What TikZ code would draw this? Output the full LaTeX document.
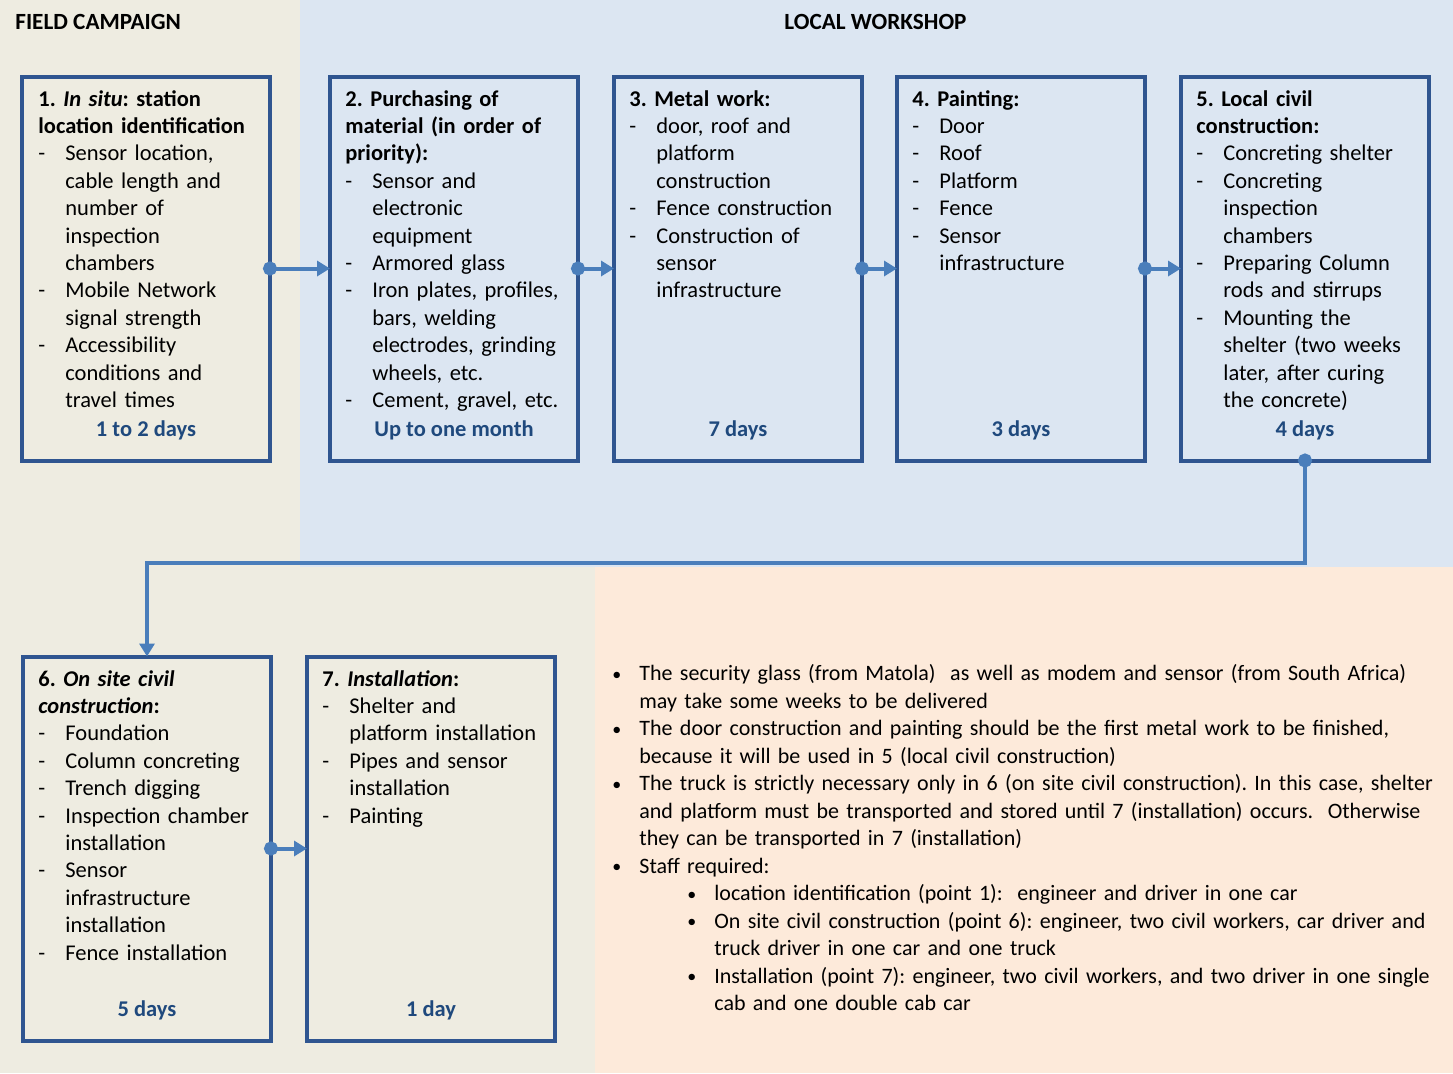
\documentclass[tikz,border=0pt]{standalone}
\usepackage{fontspec}
\setmainfont{Carlito}
\usetikzlibrary{positioning,arrows.meta}
\definecolor{fieldbg}{HTML}{EEECE1}
\definecolor{workbg}{HTML}{DCE6F2}
\definecolor{notebg}{HTML}{FDEADA}
\definecolor{boxline}{HTML}{2F5590}
\definecolor{flowline}{HTML}{4A7EBB}
\definecolor{dayblue}{HTML}{1F497D}
\newcommand{\boxfont}{\fontsize{11.25}{13.7}\selectfont\frenchspacing}
\newcommand{\notefont}{\fontsize{11}{13.75}\selectfont\frenchspacing}
\newcommand{\bulletmark}{\raisebox{0.4pt}{\fontsize{9}{9}\selectfont•}}
\newcommand{\itm}{\par\hangindent=13.5pt\hangafter=1\noindent\makebox[13.5pt][l]{-}}
\newcommand{\bul}{\par\hangindent=13.5pt\hangafter=1\noindent\strut\makebox[13.5pt][l]{\bulletmark}}
\newcommand{\subbul}{\par\hangindent=51pt\hangafter=1\noindent\hspace*{37.5pt}\makebox[13.5pt][l]{\bulletmark}}
\tikzset{
  stepbox/.style  = {shape=rectangle, draw=boxline, line width=2pt, outer sep=0pt,
                     minimum width=124pt, minimum height=192pt, inner sep=0pt},
  steptext/.style = {anchor=north west, text width=112pt, align=left,
                     inner sep=0pt, font=\boxfont},
  days/.style     = {anchor=base, inner sep=0pt, font=\boxfont\bfseries, text=dayblue},
  heading/.style  = {anchor=west, inner sep=0pt, font=\fontsize{11.6}{14}\selectfont\bfseries},
  flow/.style     = {draw=flowline, line width=2pt, shorten <=-3.5pt,
                     {Circle[length=7pt]}-{Triangle[length=6.5pt,width=7.5pt]}}
}

\begin{document}
\begin{tikzpicture}[x=0.5pt,y=-0.5pt]
  \useasboundingbox (0,0) rectangle (1453,1073);
  % backgrounds
  \fill[fieldbg] (0,0) rectangle (1453,1073);
  \fill[workbg] (300,0) rectangle (1453,567);
  \fill[notebg] (595,567) rectangle (1453,1073);

  \node[heading] (field) at (15,22) {FIELD CAMPAIGN};
  \node[heading] (workshop) at (784,22) {LOCAL WORKSHOP};

  % steps
  \node[stepbox] (b1) at (146,268.5) {};
  \node[stepbox, right=30pt of b1] (b2) {};
  \node[stepbox, right=18pt of b2] (b3) {};
  \node[stepbox, right=17.5pt of b3] (b4) {};
  \node[stepbox, right=18pt of b4] (b5) {};
  \node[stepbox] (b6) at (147,848.5) {};
  \node[stepbox, right=18pt of b6] (b7) {};

  \node[steptext] (t1) at ([xshift=8pt,yshift=-5pt]b1.north west)
    {\noindent\strut\textbf{1. \textit{In situ}: station\newline location identification}
     \itm Sensor location,\newline cable length and\newline number of\newline inspection\newline chambers
     \itm Mobile Network\newline signal strength
     \itm Accessibility\newline conditions and\newline travel times\par};
  \node[steptext] (t2) at ([xshift=7.5pt,yshift=-5pt]b2.north west)
    {\noindent\strut\textbf{2. Purchasing of\newline material (in order of\newline priority):}
     \itm Sensor and\newline electronic\newline equipment
     \itm Armored glass
     \itm Iron plates, profiles,\newline bars, welding\newline electrodes, grinding\newline wheels, etc.
     \itm Cement, gravel, etc.\par};
  \node[steptext] (t3) at ([xshift=7.5pt,yshift=-5pt]b3.north west)
    {\noindent\strut\textbf{3. Metal work:}
     \itm door, roof and\newline platform\newline construction
     \itm Fence construction
     \itm Construction of\newline sensor\newline infrastructure\par};
  \node[steptext] (t4) at ([xshift=7.5pt,yshift=-5pt]b4.north west)
    {\noindent\strut\textbf{4. Painting:}
     \itm Door
     \itm Roof
     \itm Platform
     \itm Fence
     \itm Sensor\newline infrastructure\par};
  \node[steptext] (t5) at ([xshift=7.5pt,yshift=-5pt]b5.north west)
    {\noindent\strut\textbf{5. Local civil\newline construction:}
     \itm Concreting shelter
     \itm Concreting\newline inspection\newline chambers
     \itm Preparing Column\newline rods and stirrups
     \itm Mounting the\newline shelter (two weeks\newline later, after curing\newline the concrete)\par};
  \node[steptext] (t6) at ([xshift=7.5pt,yshift=-5pt]b6.north west)
    {\noindent\strut\textbf{6. \textit{On site civil}\newline \textit{construction}:}
     \itm Foundation
     \itm Column concreting
     \itm Trench digging
     \itm Inspection chamber\newline installation
     \itm Sensor\newline infrastructure\newline installation
     \itm Fence installation\par};
  \node[steptext] (t7) at ([xshift=7.5pt,yshift=-5pt]b7.north west)
    {\noindent\strut\textbf{7. \textit{Installation}:}
     \itm Shelter and\newline platform installation
     \itm Pipes and sensor\newline installation
     \itm Painting\par};

  % durations
  \node[days] (d1) at ([yshift=12pt]b1.south) {1 to 2 days};
  \node[days] (d2) at ([yshift=12pt]b2.south) {Up to one month};
  \node[days] (d3) at ([yshift=12pt]b3.south) {7 days};
  \node[days] (d4) at ([yshift=12pt]b4.south) {3 days};
  \node[days] (d5) at ([yshift=12pt]b5.south) {4 days};
  \node[days] (d6) at ([yshift=12pt]b6.south) {5 days};
  \node[days] (d7) at ([yshift=12pt]b7.south) {1 day};

  % notes
  \node[steptext, text width=421pt, font=\notefont] (notes) at (612,653)
    {\bul The security glass (from Matola)~ as well as modem and sensor (from South Africa)\newline may take some weeks to be delivered
     \bul The door construction and painting should be the first metal work to be finished,\newline because it will be used in 5 (local civil construction)
     \bul The truck is strictly necessary only in 6 (on site civil construction). In this case, shelter\newline and platform must be transported and stored until 7 (installation) occurs.~ Otherwise\newline they can be transported in 7 (installation)
     \bul Staff required:
     \subbul location identification (point 1):~ engineer and driver in one car
     \subbul On site civil construction (point 6): engineer, two civil workers, car driver and\newline truck driver in one car and one truck
     \subbul Installation (point 7): engineer, two civil workers, and two driver in one single\newline cab and one double cab car\par};

  % flow
  \coordinate (turn) at (700,563);
  \foreach \a/\b in {b1/b2, b2/b3, b3/b4, b4/b5, b6/b7}
    \draw[flow] (\a.east) -- (\b.west);
  \draw[flow] (b5.south) |- (turn) -| (b6.north);
\end{tikzpicture}
\end{document}
